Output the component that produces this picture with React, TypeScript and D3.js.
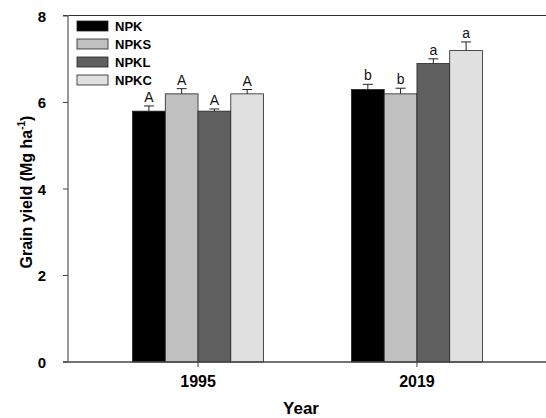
import React from 'react'
import * as d3 from 'd3'

const years = ['1995', '2019']
const treatments = ['NPK', 'NPKS', 'NPKL', 'NPKC']
const fills = ['#000000', '#c0c0c0', '#606060', '#e0e0e0']
// mean yield per treatment, one array per year
const yield1995 = [5.8, 6.2, 5.8, 6.2]
const yield2019 = [6.3, 6.2, 6.9, 7.2]
const se1995 = [0.12, 0.12, 0.05, 0.1]
const se2019 = [0.12, 0.13, 0.11, 0.2]
const letters1995 = ['A', 'A', 'A', 'A']
const letters2019 = ['b', 'b', 'a', 'a']
const yTicks = [0, 2, 4, 6, 8]

const W = 546
const H = 418
const left = 68
const right = 547
const top = 16
const bottom = 362
const font = 'Liberation Sans, Arial, sans-serif'

const App = () => {
  const y = d3.scaleLinear().domain([0, 8]).range([bottom, top])
  const x = d3.scalePoint().domain(years).range([left, right]).padding(0.594)
  const inner = d3.scaleBand().domain(treatments).range([-65.5, 65.5])

  const rows = years.map((yr, i) => ({
    year: yr,
    means: i === 0 ? yield1995 : yield2019,
    errs: i === 0 ? se1995 : se2019,
    letters: i === 0 ? letters1995 : letters2019,
  }))

  return (
    <svg width={W} height={H} style={{ position: 'absolute', left: 0, top: 0 }} fontFamily={font}>
      <rect width={W} height={H} fill="#fff" />
      {/* frame top line */}
      <line x1={63} x2={right} y1={top - 0.5} y2={top - 0.5} stroke="#333" strokeWidth={1.2} />
      {rows.map((r) =>
        treatments.map((t, j) => {
          const cx = (x(r.year) as number) + (inner(t) as number)
          const bw = inner.bandwidth()
          const v = r.means[j]
          const e = r.errs[j]
          const mid = cx + bw / 2
          return (
            <g key={r.year + t}>
              <rect x={cx} y={y(v)} width={bw} height={bottom - y(v)} fill={fills[j]} stroke="#222" strokeWidth={0.8} />
              <line x1={mid} x2={mid} y1={y(v)} y2={y(v + e)} stroke="#222" strokeWidth={1} />
              <line x1={mid - 5} x2={mid + 5} y1={y(v + e)} y2={y(v + e)} stroke="#222" strokeWidth={1} />
              <text x={mid} y={y(v + e) - 4} textAnchor="middle" fontSize={14} fill="#111">
                {r.letters[j]}
              </text>
            </g>
          )
        })
      )}
      {/* x axis */}
      <line x1={63} x2={right} y1={bottom} y2={bottom} stroke="#444" strokeWidth={1.5} />
      {years.map((yr) => (
        <g key={yr}>
          <line x1={x(yr)} x2={x(yr)} y1={bottom} y2={bottom + 5} stroke="#444" strokeWidth={1} />
          <text x={x(yr)} y={386.5} textAnchor="middle" fontSize={16} fontWeight="bold">
            {yr}
          </text>
        </g>
      ))}
      <text x={301} y={414} textAnchor="middle" fontSize={17} fontWeight="bold">
        Year
      </text>
      {/* y axis */}
      <line x1={left} x2={left} y1={top - 1} y2={bottom} stroke="#777" strokeWidth={1.5} />
      {yTicks.map((t) => (
        <g key={t}>
          <line x1={63} x2={left} y1={y(t)} y2={y(t)} stroke="#444" strokeWidth={1} />
          <text x={46} y={y(t) + 5.5} textAnchor="end" fontSize={15} fontWeight="bold">
            {t}
          </text>
        </g>
      ))}
      <text transform="translate(32,192) rotate(-90)" textAnchor="middle" fontSize={16} fontWeight="bold">
        Grain yield (Mg ha
        <tspan fontSize={10} dy={-7}>-1</tspan>
        <tspan dy={7}>)</tspan>
      </text>
      {/* legend */}
      {treatments.map((t, j) => (
        <g key={t} transform={`translate(77,${21 + j * 18})`}>
          <rect width={31} height={10} fill={fills[j]} stroke="#222" strokeWidth={0.8} />
          <text x={38} y={9.8} fontSize={13} fontWeight="bold">
            {t}
          </text>
        </g>
      ))}
    </svg>
  )
}

export default App
